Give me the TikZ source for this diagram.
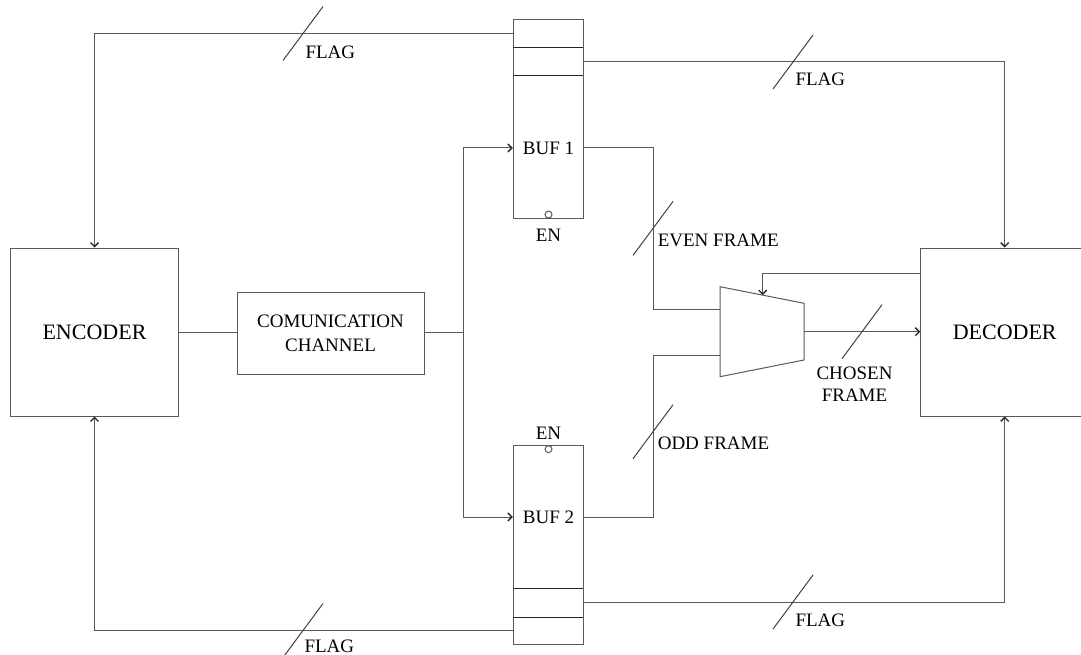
\documentclass[tikz,border=0pt]{standalone}
\usepackage{fontspec}
\setmainfont{Liberation Serif}
\usetikzlibrary{arrows.meta}

\begin{document}
\begin{tikzpicture}[x=1pt, y=-1pt, line width=1pt, >={Straight Barb[length=4pt,width=8pt,line width=1.3pt,color=black!85]},
    block/.style={draw=black!65, rectangle, inner sep=0pt},
    wire/.style={draw=black!65},
    lbl/.style={font=\fontsize{19}{22}\selectfont, inner sep=0pt},
    big/.style={font=\fontsize{22}{26}\selectfont},
    enmark/.style={draw=black!65, circle, minimum size=7pt, inner sep=0pt}]
    \useasboundingbox (0,0) rectangle (1081,655);
    \clip (0,0) rectangle (1081,655);

    \node[block, big, minimum width=168pt, minimum height=168pt] (enc) at (94.5,332) {ENCODER};
    \node[block, minimum width=187pt, minimum height=82pt, align=center, font=\fontsize{19}{24}\selectfont] (chan) at (330.5,333) {COMUNICATION\\CHANNEL};
    \node[block, big, minimum width=168pt, minimum height=168pt] (dec) at (1004.7,332) {DECODER};

    % buffers
    \node[block, minimum width=70.5pt, minimum height=198.7pt] (buf1) at (548.5,118.7) {};
    \node[lbl] (buf1txt) at (548.5,148) {BUF 1};
    \draw[black!85] (buf1.north west) ++(0,28.4) -- ++(70.5,0);
    \draw[black!85] (buf1.north west) ++(0,57) -- ++(70.5,0);
    \node[enmark, anchor=south] (en1) at (buf1.south) {};
    \node[lbl] (en1txt) at (548.5,235) {EN};

    \node[block, minimum width=70.5pt, minimum height=198.7pt] (buf2) at (548.5,545) {};
    \node[lbl] (buf2txt) at (548.5,517) {BUF 2};
    \draw[black!85] (buf2.south west) ++(0,-27.6) -- ++(70.5,0);
    \draw[black!85] (buf2.south west) ++(0,-56.6) -- ++(70.5,0);
    \node[enmark, anchor=north] (en2) at (buf2.north) {};
    \node[lbl] (en2txt) at (548.5,433) {EN};

    % mux
    \coordinate (muxa) at (720,286.7);
    \coordinate (muxb) at (804,303.3);
    \coordinate (muxc) at (804,360);
    \coordinate (muxd) at (720,376.7);
    \draw[black!65] (muxa) -- (muxb) -- (muxc) -- (muxd) -- cycle;
    \coordinate (muxin1) at (720,309.3);
    \coordinate (muxin2) at (720,355);
    \coordinate (muxout) at (804,331.7);
    \coordinate (muxsel) at (762.7,295.1);

    % data path
    \coordinate (split) at (463,332);
    \draw[wire] (enc.east) -- (chan.west |- enc.east);
    \draw[wire] (chan.east |- split) -- (split);
    \draw[wire,->] (split) |- (buf1.west |- buf1txt);
    \draw[wire,->] (split) |- (buf2.west |- buf2txt);
    \draw[wire] (buf1.east |- buf1txt) -- ++(69.5,0) |- (muxin1);
    \draw[wire] (buf2.east |- buf2txt) -- ++(69.5,0) |- (muxin2);
    \draw[wire,->] (muxout) -- (dec.west |- muxout);
    \draw[wire,->] (dec.west |- 0,273.3) -| (muxsel);

    % flags
    \draw[wire,->] (buf1.west |- 0,33.5) -| (enc.north);
    \draw[wire,->] (buf1.east |- 0,62) -| (dec.north);
    \draw[wire,->] (buf2.east |- 0,602) -| (dec.south);
    \draw[wire,->] (buf2.west |- 0,630.5) -| (enc.south);

    % bus marks
    \foreach \p in {(303,33.5),(793,62),(653,228.4),(653,431.7),(862,331.7),(793,602),(303,630.5)}
      \draw[black!75] \p ++(-20,27) -- ++(40,-54);

    \node[lbl, anchor=west] (flag1) at (305,52) {FLAG};
    \node[lbl, anchor=west] (flag2) at (795,79.5) {FLAG};
    \node[lbl, anchor=west] (even) at (657.3,240) {EVEN FRAME};
    \node[lbl, anchor=west] (odd) at (657.3,443.3) {ODD FRAME};
    \node[lbl, align=center] (chosen) at (854.5,384) {CHOSEN\\FRAME};
    \node[lbl, anchor=west] (flag3) at (795,620) {FLAG};
    \node[lbl, anchor=west] (flag4) at (304,646.7) {FLAG};
\end{tikzpicture}
\end{document}
